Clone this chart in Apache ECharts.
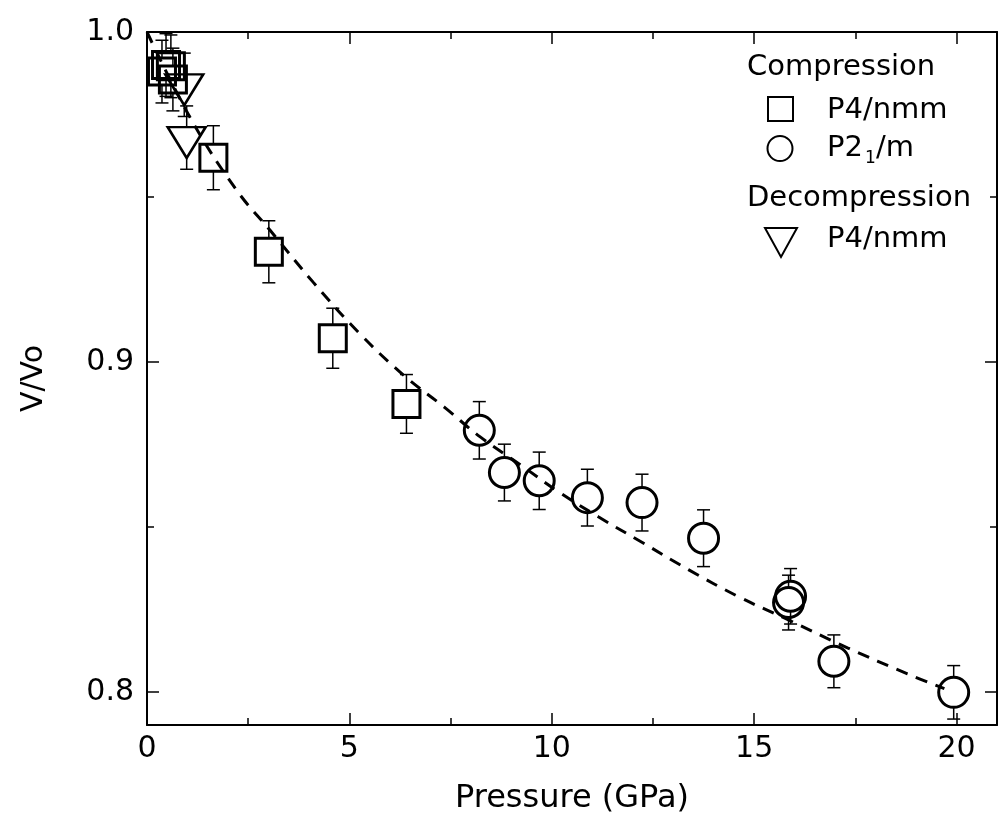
<!DOCTYPE html>
<html><head><meta charset="utf-8">
<script src="https://cdn.jsdelivr.net/npm/echarts@6/dist/echarts.min.js"></script>
<style>html,body{margin:0;padding:0;background:#fff}#c{width:999px;height:836px}</style>
</head><body><div id="c"></div>
<script>
// ---- tick values ----
const xTicksMajor = [0, 5, 10, 15, 20];
const xTicksMinor = [2.5, 7.5, 12.5, 17.5];
const yTicksMajor = [0.8, 0.9, 1.0];
const yTicksMinor = [0.85, 0.95];

// ---- Compression, P4/nmm (squares) ----
const sqP   = [0.37, 0.47, 0.59, 0.64, 1.64, 3.01, 4.59, 6.41];
const sqV   = [0.988, 0.990, 0.9896, 0.9856, 0.9619, 0.9334, 0.9072, 0.8873];
const sqErr = [0.0095, 0.0095, 0.0095, 0.0095, 0.0097, 0.0094, 0.0091, 0.0089];

// ---- Compression, P2_1/m (circles) ----
const ciP   = [8.21, 8.83, 9.69, 10.88, 12.23, 13.75, 15.90, 15.85, 16.97, 19.93];
const ciV   = [0.8793, 0.8665, 0.8640, 0.8589, 0.8574, 0.8466, 0.8290, 0.8271, 0.8093, 0.7999];
const ciErr = [0.0087, 0.0086, 0.0087, 0.0086, 0.0086, 0.0086, 0.0084, 0.0083, 0.0080, 0.0081];

// ---- Decompression, P4/nmm (down triangles) ----
const trP   = [0.92, 0.98];
const trV   = [0.984, 0.968];
const trErr = [0.0096, 0.0096];

// ---- fitted EOS curve ----
const fitP = [0, 1.105, 2.218, 3.041, 4.104, 5.216, 6.329, 7.367, 8.232, 9.221, 10.161, 11.150, 12.237, 13.375, 14.611, 15.822, 17.305, 18.789, 19.7];
const fitV = [1.0, 0.9732, 0.9520, 0.9399, 0.9242, 0.9091, 0.8961, 0.8861, 0.8773, 0.8689, 0.8607, 0.8531, 0.8453, 0.8371, 0.8289, 0.8220, 0.8134, 0.8055, 0.8010];

const FONT = 'DejaVu Sans';
const X_MIN = 0, X_MAX = 21, Y_MIN = 0.79, Y_MAX = 1.0;

const zip = (a, b, c) => a.map((v, i) => c ? [v, b[i], c[i]] : [v, b[i]]);

function xAx(pos, ticks, len, withLine, withLabel) {
  return {
    type: 'value', position: pos, min: X_MIN, max: X_MAX,
    splitLine: {show: false},
    axisLine: {show: withLine, onZero: false, lineStyle: {color: '#000', width: 2}},
    axisTick: {show: true, inside: true, length: len, customValues: ticks, lineStyle: {color: '#000', width: 1.5}},
    axisLabel: withLabel ? {show: true, customValues: ticks, margin: 9, color: '#000', fontFamily: FONT, fontSize: 30} : {show: false},
    name: withLabel ? 'Pressure (GPa)' : '',
    nameLocation: 'middle', nameGap: 58,
    nameTextStyle: {color: '#000', fontFamily: FONT, fontSize: 32}
  };
}
function yAx(pos, ticks, len, withLine, withLabel) {
  return {
    type: 'value', position: pos, min: Y_MIN, max: Y_MAX,
    splitLine: {show: false},
    axisLine: {show: withLine, onZero: false, lineStyle: {color: '#000', width: 2}},
    axisTick: {show: true, inside: true, length: len, customValues: ticks, lineStyle: {color: '#000', width: 1.5}},
    axisLabel: withLabel ? {show: true, customValues: ticks, margin: 13, color: '#000', fontFamily: FONT, fontSize: 30,
      formatter: v => v.toFixed(1)} : {show: false},
    name: withLabel ? 'V/Vo' : '',
    nameLocation: 'middle', nameGap: 98, nameRotate: 90,
    nameTextStyle: {color: '#000', fontFamily: FONT, fontSize: 30}
  };
}

function errSeries(data, gapUp, gapDown) {
  return {
    type: 'custom', z: 1, silent: true,
    data: data,
    renderItem: function (params, api) {
      const x = api.value(0), v = api.value(1), e = api.value(2);
      const c = api.coord([x, v]);
      const t = api.coord([x, v + e]);
      const b = api.coord([x, v - e]);
      const hw = 6.5;
      const st = {stroke: '#000', lineWidth: 1.5};
      const ch = [];
      if (t[1] < c[1] - gapUp) {
        ch.push({type: 'line', shape: {x1: c[0], y1: c[1] - gapUp, x2: c[0], y2: t[1]}, style: st});
      }
      ch.push({type: 'line', shape: {x1: c[0] - hw, y1: t[1], x2: c[0] + hw, y2: t[1]}, style: st});
      if (b[1] > c[1] + gapDown) {
        ch.push({type: 'line', shape: {x1: c[0], y1: c[1] + gapDown, x2: c[0], y2: b[1]}, style: st});
      }
      ch.push({type: 'line', shape: {x1: c[0] - hw, y1: b[1], x2: c[0] + hw, y2: b[1]}, style: st});
      return {type: 'group', children: ch};
    }
  };
}

const triPath = 'path://M0,0 L38,0 L19,31 Z';
const symStyle = {color: 'rgba(0,0,0,0)', borderColor: '#000', borderWidth: 3, opacity: 1};

const chart = echarts.init(document.getElementById('c'), null, {renderer: 'canvas'});
const LX = 747, LT = 827, LF = 29;
const txt = (x, y, s, fs) => ({type: 'text', silent: true,
  style: {x: x, y: y, text: s, fontFamily: FONT, fontSize: fs || LF, fill: '#000', textVerticalAlign: 'middle'}});
chart.setOption({
  animation: false,
  backgroundColor: '#fff',
  grid: {left: 147, right: 2, top: 32, bottom: 111, containLabel: false},
  xAxis: [
    xAx('bottom', xTicksMajor, 12, true, true),
    xAx('bottom', xTicksMinor, 7, false, false),
    xAx('top', xTicksMajor, 12, true, false),
    xAx('top', xTicksMinor, 7, false, false)
  ],
  yAxis: [
    yAx('left', yTicksMajor, 12, true, true),
    yAx('left', yTicksMinor, 7, false, false),
    yAx('right', yTicksMajor, 12, true, false),
    yAx('right', yTicksMinor, 7, false, false)
  ],
  series: [
    {
      type: 'line', data: zip(fitP, fitV), smooth: 0.4, showSymbol: false, z: 0, silent: true,
      lineStyle: {color: '#000', width: 3, type: [12, 9]}
    },
    errSeries(zip(sqP, sqV, sqErr), 14, 14),
    errSeries(zip(ciP, ciV, ciErr), 15.5, 15.5),
    errSeries(zip(trP, trV, trErr), 10.5, 20.5),
    {type: 'scatter', data: zip(sqP, sqV), symbol: 'rect', symbolSize: 27, itemStyle: symStyle, z: 3},
    {type: 'scatter', data: zip(ciP, ciV), symbol: 'circle', symbolSize: 30, itemStyle: symStyle, z: 3},
    {type: 'scatter', data: zip(trP, trV), symbol: triPath, symbolSize: [38, 31], symbolOffset: [0, 5],
      itemStyle: {color: 'rgba(0,0,0,0)', borderColor: '#000', borderWidth: 2.5, opacity: 1}, z: 3}
  ],
  graphic: [
    txt(LX, 67, 'Compression'),
    {type: 'rect', shape: {x: 768, y: 97, width: 25, height: 24}, style: {fill: 'none', stroke: '#000', lineWidth: 2}},
    txt(LT, 110, 'P4/nmm'),
    {type: 'circle', shape: {cx: 780, cy: 148.5, r: 12.5}, style: {fill: 'none', stroke: '#000', lineWidth: 2}},
    txt(LT, 148, 'P2'),
    txt(LT + 38, 159, '1', 17),
    txt(LT + 49, 148, '/m'),
    txt(LX, 198, 'Decompression'),
    {type: 'polygon', shape: {points: [[765, 228], [797, 228], [781, 257]]}, style: {fill: 'none', stroke: '#000', lineWidth: 2}},
    txt(LT, 239, 'P4/nmm')
  ]
});
</script>
</body></html>
